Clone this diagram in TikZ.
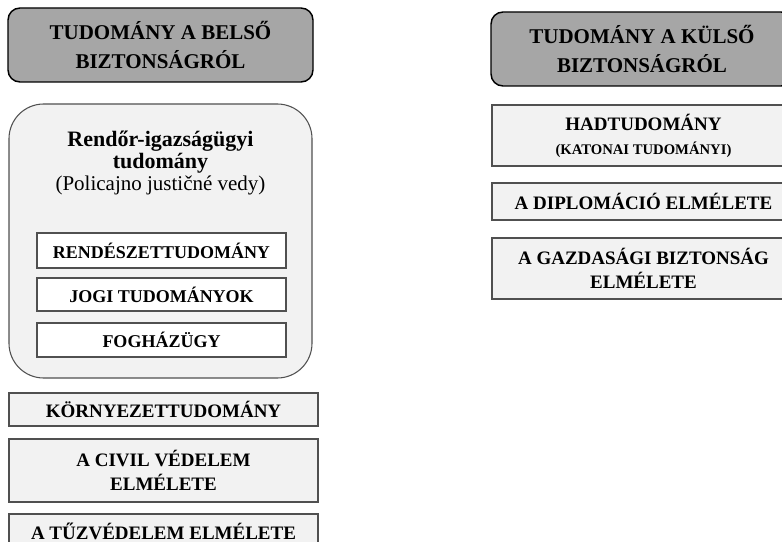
\documentclass[tikz,border=0pt]{standalone}
\usepackage{fontspec}
\setmainfont{Liberation Serif}
\definecolor{headfill}{HTML}{A6A6A6}
\definecolor{lightfill}{HTML}{F2F2F2}
\definecolor{boxline}{HTML}{505050}
\begin{document}
\begin{tikzpicture}[x=0.75pt,y=-0.75pt,
  headbox/.style={draw=black,line width=1.1pt,fill=headfill,rounded corners=9pt,
    minimum height=55.5pt,align=center,inner sep=0pt,
    font=\fontsize{15.75}{21.75}\selectfont\bfseries},
  bigbox/.style={draw=boxline,line width=0.8pt,fill=lightfill,rounded corners=26pt,
    minimum width=227.25pt,minimum height=205.5pt,inner sep=0pt},
  innerbox/.style={draw=boxline,line width=0.8pt,fill=white,minimum width=186.75pt,
    inner sep=0pt,align=center,font=\fontsize{13.5}{17}\selectfont\bfseries},
  leftbox/.style={draw=boxline,line width=0.8pt,fill=lightfill,minimum width=231.75pt,
    inner sep=0pt,align=center,font=\fontsize{14.25}{18.4}\selectfont\bfseries},
  rightbox/.style={draw=boxline,line width=0.8pt,fill=lightfill,minimum width=227.25pt,
    inner sep=0pt,align=center,font=\fontsize{14.25}{18}\selectfont\bfseries}]
\useasboundingbox (0,0) rectangle (782,542);
\clip (0,0) rectangle (782,542);
\fill[white] (0,0) rectangle (782,542);
% left column
\node[headbox,minimum width=228.75pt] (h1) at (160.5,45) {TUDOMÁNY A BELSŐ\\BIZTONSÁGRÓL};
\node[bigbox] (big) at (160.5,241) {};
\node[align=center,inner sep=0pt,font=\fontsize{16.5}{16.2}\selectfont] (title) at (160.5,163)
  {\bfseries Rendőr-igazságügyi\\\bfseries tudomány\\\fontsize{15.75}{16}\selectfont\mdseries (Policajno justičné vedy)};
\node[innerbox,minimum height=26.25pt] (r1) at (161.5,250.5) {RENDÉSZETTUDOMÁNY};
\node[innerbox,minimum height=24.75pt] (r2) at (161.5,294.5) {JOGI TUDOMÁNYOK};
\node[innerbox,minimum height=25.5pt] (r3) at (161.5,340) {FOGHÁZÜGY};
\node[leftbox,minimum height=24.75pt] (k) at (163.5,409.5) {KÖRNYEZETTUDOMÁNY};
\node[leftbox,minimum height=47.25pt] (c) at (163.5,470.5) {A CIVIL VÉDELEM\\ELMÉLETE};
\node[leftbox,minimum height=26.25pt] (t) at (163.5,531.5) {A TŰZVÉDELEM ELMÉLETE};
% right column
\node[headbox,minimum width=226.5pt] (h2) at (642,49) {TUDOMÁNY A KÜLSŐ\\BIZTONSÁGRÓL};
\node[rightbox,minimum height=45.75pt] (had) at (643.5,135.5)
  {HADTUDOMÁNY\\\fontsize{11}{13}\selectfont (KATONAI TUDOMÁNYI)};
\node[rightbox,minimum height=27.75pt] (dip) at (643.5,201.5) {A DIPLOMÁCIÓ ELMÉLETE};
\node[rightbox,minimum height=45.75pt] (gaz) at (643.5,268.5) {A GAZDASÁGI BIZTONSÁG\\ELMÉLETE};
\end{tikzpicture}
\end{document}
